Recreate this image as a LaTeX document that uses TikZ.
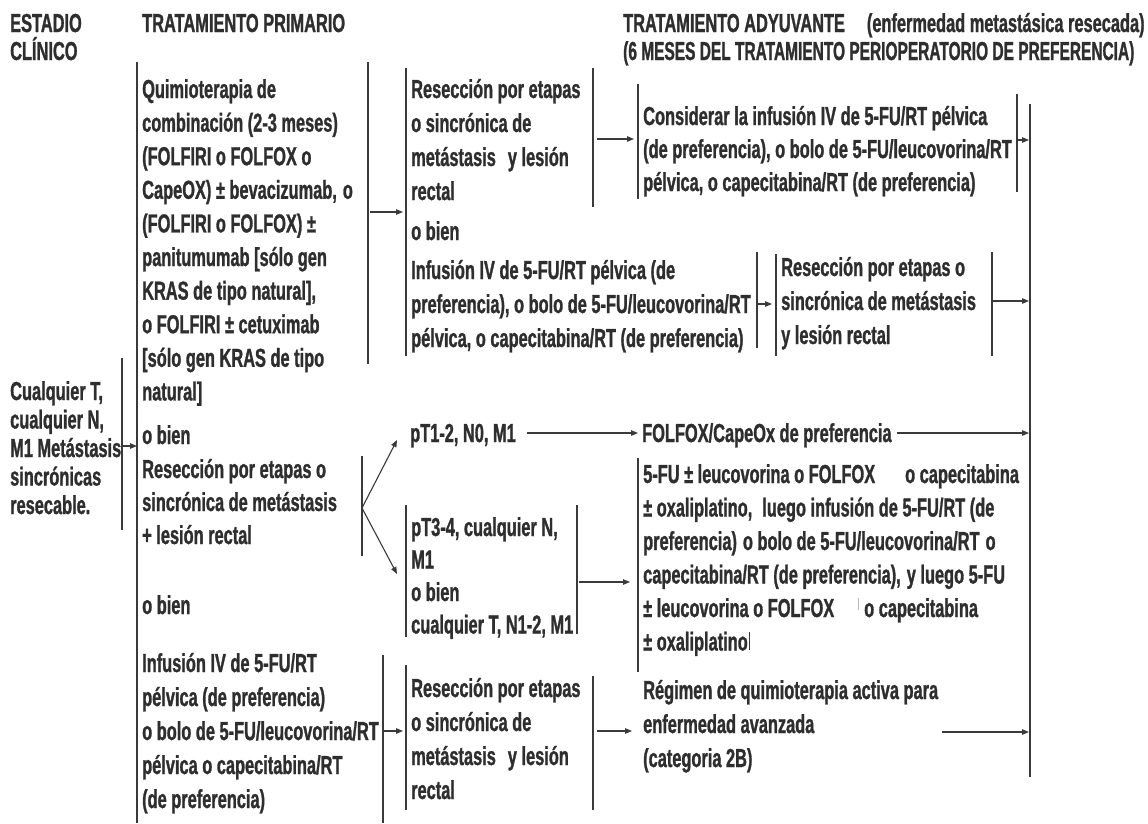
\documentclass[tikz,border=0pt]{standalone}
\usepackage{fontspec}
\usepackage{graphicx}
\newfontfamily\dfont{Liberation Sans}[FakeStretch=0.63,FakeBold=1.1]
\usetikzlibrary{arrows.meta}
\definecolor{ink}{HTML}{2E2E2E}
\definecolor{rule}{HTML}{3A3A3A}
\definecolor{faint}{HTML}{B8B8B8}
\tikzset{
  txt/.style={anchor=base west, inner sep=0pt, text=ink, font=\dfont\bfseries\fontsize{26}{30}\selectfont},
  bar/.style={draw=rule, line width=1.1pt},
  arr/.style={draw=rule, line width=1.1pt, -{Triangle[length=7pt,width=5.5pt]}},
}
\newcommand\tblock[5]{\foreach \t [count=\i] in {#5}{\node[txt] (#1-\i) at ({#2},{#3+(\i-1)*#4}) {\t};}}
\begin{document}
\begin{tikzpicture}[x=1pt,y=-1pt]
\useasboundingbox (0,0) rectangle (1148,823);
% headers
\node[txt] (h1a) at (10,32) {ESTADIO};
\node[txt] (h1b) at (10,60) {CLÍNICO};
\node[txt] (h2) at (142,32) {TRATAMIENTO PRIMARIO};
\node[txt] (h3a) at (623,32) {TRATAMIENTO ADYUVANTE\hspace{22pt}(enfermedad metastásica resecada)};
\node[txt] (h3b) at (623,60) {\scalebox{0.945}[1]{(6 MESES DEL TRATAMIENTO PERIOPERATORIO DE PREFERENCIA)}};
% column 1
\tblock{c1}{10}{400}{28.5}{{Cualquier T,},{cualquier N,},{M1 Metástasis},{sincrónicas},{resecable.}}
\coordinate (c1t) at (122,358); \coordinate (c1b) at (122,530);
\draw[bar] (c1t) -- (c1b);
\coordinate (c1s) at (122,446); \coordinate (c1e) at (137,446);
\draw[arr] (c1s) -- (c1e);
% column 2
\coordinate (c2t) at (137,62); \coordinate (c2b) at (137,823);
\draw[bar] (c2t) -- (c2b);
\tblock{a}{142}{98}{33.6}{{Quimioterapia de},{combinación (2-3 meses)},{(FOLFIRI o FOLFOX o},{CapeOX) ± bevacizumab,\hspace{6pt}o},{(FOLFIRI o FOLFOX) ±},{panitumumab [sólo gen},{KRAS de tipo natural],},{o FOLFIRI ± cetuximab},{[sólo gen KRAS de tipo},{natural]}}
\node[txt] (ob1) at (142,444) {o bien};
\tblock{b}{142}{478}{33}{{Resección por etapas o},{sincrónica de metástasis},{+ lesión rectal}}
\node[txt] (ob2) at (142,614) {o bien};
\tblock{c}{142}{672}{34}{{Infusión IV de 5-FU/RT},{pélvica (de preferencia)},{o bolo de 5-FU/leucovorina/RT},{pélvica o capecitabina/RT},{(de preferencia)}}
\coordinate (abt) at (368,62); \coordinate (abb) at (368,364);
\draw[bar] (abt) -- (abb);
\coordinate (aas) at (370,212); \coordinate (aae) at (403,212);
\draw[arr] (aas) -- (aae);
\coordinate (bbt) at (362,456); \coordinate (bbb) at (362,556);
\draw[bar] (bbt) -- (bbb);
\coordinate (vx) at (362,508); \coordinate (vu) at (397,440); \coordinate (vd) at (397,574);
\draw[arr] (vx) -- (vu);
\draw[arr] (vx) -- (vd);
\coordinate (cbt) at (383,655); \coordinate (cbb) at (383,823);
\draw[bar] (cbt) -- (cbb);
\coordinate (cas) at (383,731); \coordinate (cae) at (403,731);
\draw[arr] (cas) -- (cae);
% column 3 top
\coordinate (t3t) at (406,68); \coordinate (t3b) at (406,356);
\draw[bar] (t3t) -- (t3b);
\tblock{r1}{411}{98}{34}{{Resección por etapas},{o sincrónica de},{metástasis\hspace{12pt}y lesión},{rectal}}
\node[txt] (ob3) at (411,240) {o bien};
\tblock{i1}{411}{279}{34}{{Infusión IV de 5-FU/RT pélvica (de},{preferencia), o bolo de 5-FU/leucovorina/RT},{pélvica, o capecitabina/RT (de preferencia)}}
\coordinate (r1bt) at (593,68); \coordinate (r1bb) at (593,207);
\draw[bar] (r1bt) -- (r1bb);
\coordinate (r1s) at (597,139); \coordinate (r1e) at (634,139);
\draw[arr] (r1s) -- (r1e);
\coordinate (i1bt) at (757,252); \coordinate (i1bb) at (757,348);
\draw[bar] (i1bt) -- (i1bb);
\coordinate (i1s) at (757,304); \coordinate (i1e) at (772,304);
\draw[arr] (i1s) -- (i1e);
\coordinate (r2lt) at (776,254); \coordinate (r2lb) at (776,356);
\draw[bar] (r2lt) -- (r2lb);
\tblock{r2}{781}{276}{34}{{Resección por etapas o},{sincrónica de metástasis},{y lesión rectal}}
\coordinate (r2rt) at (992,252); \coordinate (r2rb) at (992,356);
\draw[bar] (r2rt) -- (r2rb);
\coordinate (r2s) at (992,301); \coordinate (r2e) at (1029,301);
\draw[arr] (r2s) -- (r2e);
% column 4 top
\coordinate (k1lt) at (638,84); \coordinate (k1lb) at (638,199);
\draw[bar] (k1lt) -- (k1lb);
\tblock{k1}{643}{125}{33}{{Considerar la infusión IV de 5-FU/RT pélvica},{(de preferencia), o bolo de 5-FU/leucovorina/RT},{pélvica, o capecitabina/RT (de preferencia)}}
\coordinate (k1rt) at (1017,94); \coordinate (k1rb) at (1017,192);
\draw[bar] (k1rt) -- (k1rb);
\coordinate (k1s) at (1017,140); \coordinate (k1e) at (1029,140);
\draw[arr] (k1s) -- (k1e);
% big right bar
\coordinate (bigt) at (1030,104); \coordinate (bigb) at (1030,777);
\draw[bar] (bigt) -- (bigb);
% middle
\node[txt] (pt12) at (410,442) {pT1-2, N0, M1};
\coordinate (p1s) at (527,433); \coordinate (p1e) at (638,433);
\draw[arr] (p1s) -- (p1e);
\node[txt] (fol) at (642,442) {FOLFOX/CapeOx de preferencia};
\coordinate (f1s) at (897,433); \coordinate (f1e) at (1029,433);
\draw[arr] (f1s) -- (f1e);
\coordinate (p3lt) at (406,505); \coordinate (p3lb) at (406,637);
\draw[bar] (p3lt) -- (p3lb);
\tblock{p3}{411}{536}{32.5}{{pT3-4, cualquier N,},{M1},{o bien},{cualquier T, N1-2, M1}}
\coordinate (p3rt) at (577,505); \coordinate (p3rb) at (577,634);
\draw[bar] (p3rt) -- (p3rb);
\coordinate (p3s) at (579,582); \coordinate (p3e) at (630,582);
\draw[arr] (p3s) -- (p3e);
\coordinate (m4lt) at (638,458); \coordinate (m4lb) at (638,672);
\draw[bar] (m4lt) -- (m4lb);
\tblock{m4}{643}{483}{33.5}{{5-FU ± leucovorina o FOLFOX\hspace{30pt}o capecitabina},{± oxaliplatino,\hspace{10pt}luego infusión de 5-FU/RT (de},{preferencia)\hspace{6pt}o bolo de 5-FU/leucovorina/RT\hspace{6pt}o},{capecitabina/RT (de preferencia),\hspace{6pt}y luego 5-FU},{± leucovorina o FOLFOX\hspace{30pt}o capecitabina},{± oxaliplatino}}
\coordinate (tk1) at (749,632); \coordinate (tk2) at (749,650);
\draw[draw=rule, line width=0.6pt] (tk1) -- (tk2);
\coordinate (tk3) at (858,598); \coordinate (tk4) at (858,610);
\draw[draw=faint, line width=0.6pt] (tk3) -- (tk4);
% bottom
\tblock{g4}{643}{699}{34}{{Régimen de quimioterapia activa para},{enfermedad avanzada},{(categoria 2B)}}
\coordinate (g4s) at (942,732); \coordinate (g4e) at (1029,732);
\draw[arr] (g4s) -- (g4e);
\coordinate (r3lt) at (406,665); \coordinate (r3lb) at (406,810);
\draw[bar] (r3lt) -- (r3lb);
\tblock{r3}{411}{697}{34}{{Resección por etapas},{o sincrónica de},{metástasis\hspace{12pt}y lesión},{rectal}}
\coordinate (r3rt) at (593,676); \coordinate (r3rb) at (593,810);
\draw[bar] (r3rt) -- (r3rb);
\coordinate (r3s) at (597,731); \coordinate (r3e) at (632,731);
\draw[arr] (r3s) -- (r3e);
\end{tikzpicture}
\end{document}
